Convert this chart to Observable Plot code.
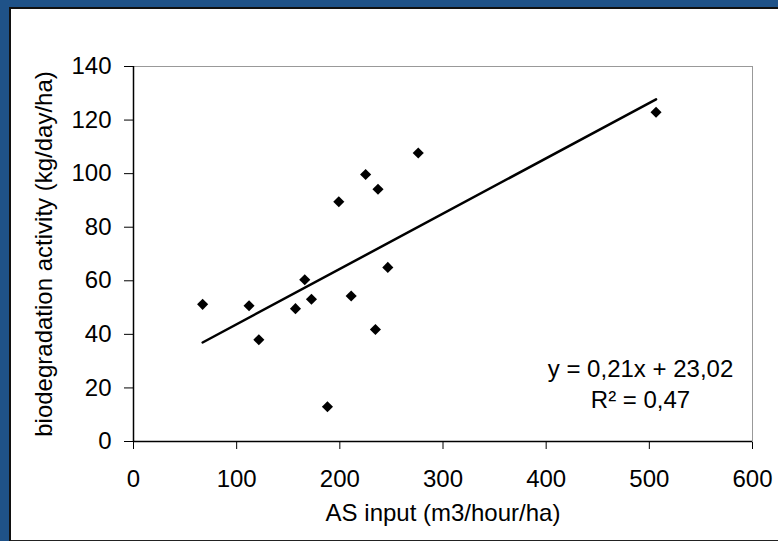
<!DOCTYPE html>
<html>
<head>
<meta charset="utf-8">
<script src="https://cdn.jsdelivr.net/npm/d3@7"></script>
<script src="https://cdn.jsdelivr.net/npm/@observablehq/plot@0.6"></script>
<style>
  html, body { margin: 0; padding: 0; }
  body { width: 778px; height: 541px; overflow: hidden; }
  #wrap { position: relative; width: 778px; height: 541px; background: #1f5288; }
  #panel { position: absolute; left: 9px; top: 7px; width: 769px; height: 531px;
           background: #fff; border-top: 2px solid #111; border-left: 2px solid #111; border-bottom: 2px solid #222; }
  #chart { position: absolute; left: 0; top: 0; }
</style>
</head>
<body>
<div id="wrap"><div id="panel"></div><div id="chart"></div></div>
<script>
// AS input (m3/hour/ha)
const asInput = [67, 112, 121.5, 157, 166, 172.5, 188, 199, 211, 225, 234.5, 237, 246.5, 276, 506.5];
// biodegradation activity (kg/day/ha)
const activity = [51.2, 50.7, 38, 49.6, 60.4, 53.1, 13, 89.5, 54.3, 99.7, 41.8, 94.2, 65, 107.7, 122.9];
const xTicks = [0, 100, 200, 300, 400, 500, 600];
const yTicks = [0, 20, 40, 60, 80, 100, 120, 140];
const xTitle = ["AS input (m3/hour/ha)"];
const yTitle = ["biodegradation activity (kg/day/ha)"];
const equationLine = ["y = 0,21x + 23,02"];
const r2Line = ["R² = 0,47"];

const data = asInput.map((x, i) => ({x, y: activity[i]}));

const chart = Plot.plot({
  width: 778,
  height: 541,
  marginLeft: 133,
  marginRight: 26,
  marginTop: 66,
  marginBottom: 100,
  style: {background: "transparent", fontFamily: "'Liberation Sans', Arial, sans-serif", fontSize: "24px", color: "#000"},
  x: {domain: [0, 600], ticks: xTicks, tickSize: 8, tickPadding: 20, label: null},
  y: {domain: [0, 140], ticks: yTicks, tickSize: 9, tickPadding: 13, label: null},
  marks: [
    Plot.frame({stroke: "#999"}),
    Plot.ruleX([0], {stroke: "#000", strokeWidth: 1.5}),
    Plot.ruleY([0], {stroke: "#000", strokeWidth: 1.5}),
    Plot.linearRegressionY(data, {x: "x", y: "y", stroke: "#000", strokeWidth: 2.5, ci: 0}),
    Plot.dot(data, {x: "x", y: "y", symbol: "diamond2", r: 5, fill: "#000", stroke: null}),
    Plot.text(equationLine, {frameAnchor: "bottom-right", dx: -112, dy: -65, textAnchor: "middle", fontSize: 24, fill: "#000"}),
    Plot.text(r2Line, {frameAnchor: "bottom-right", dx: -112, dy: -34, textAnchor: "middle", fontSize: 24, fill: "#000"}),
    Plot.text(xTitle, {frameAnchor: "bottom", dy: 79, textAnchor: "middle", fontSize: 24, fill: "#000"}),
    Plot.text(yTitle, {frameAnchor: "left", dx: -89, rotate: -90, textAnchor: "middle", fontSize: 24, fill: "#000"})
  ]
});
document.getElementById("chart").appendChild(chart);
</script>
</body>
</html>
